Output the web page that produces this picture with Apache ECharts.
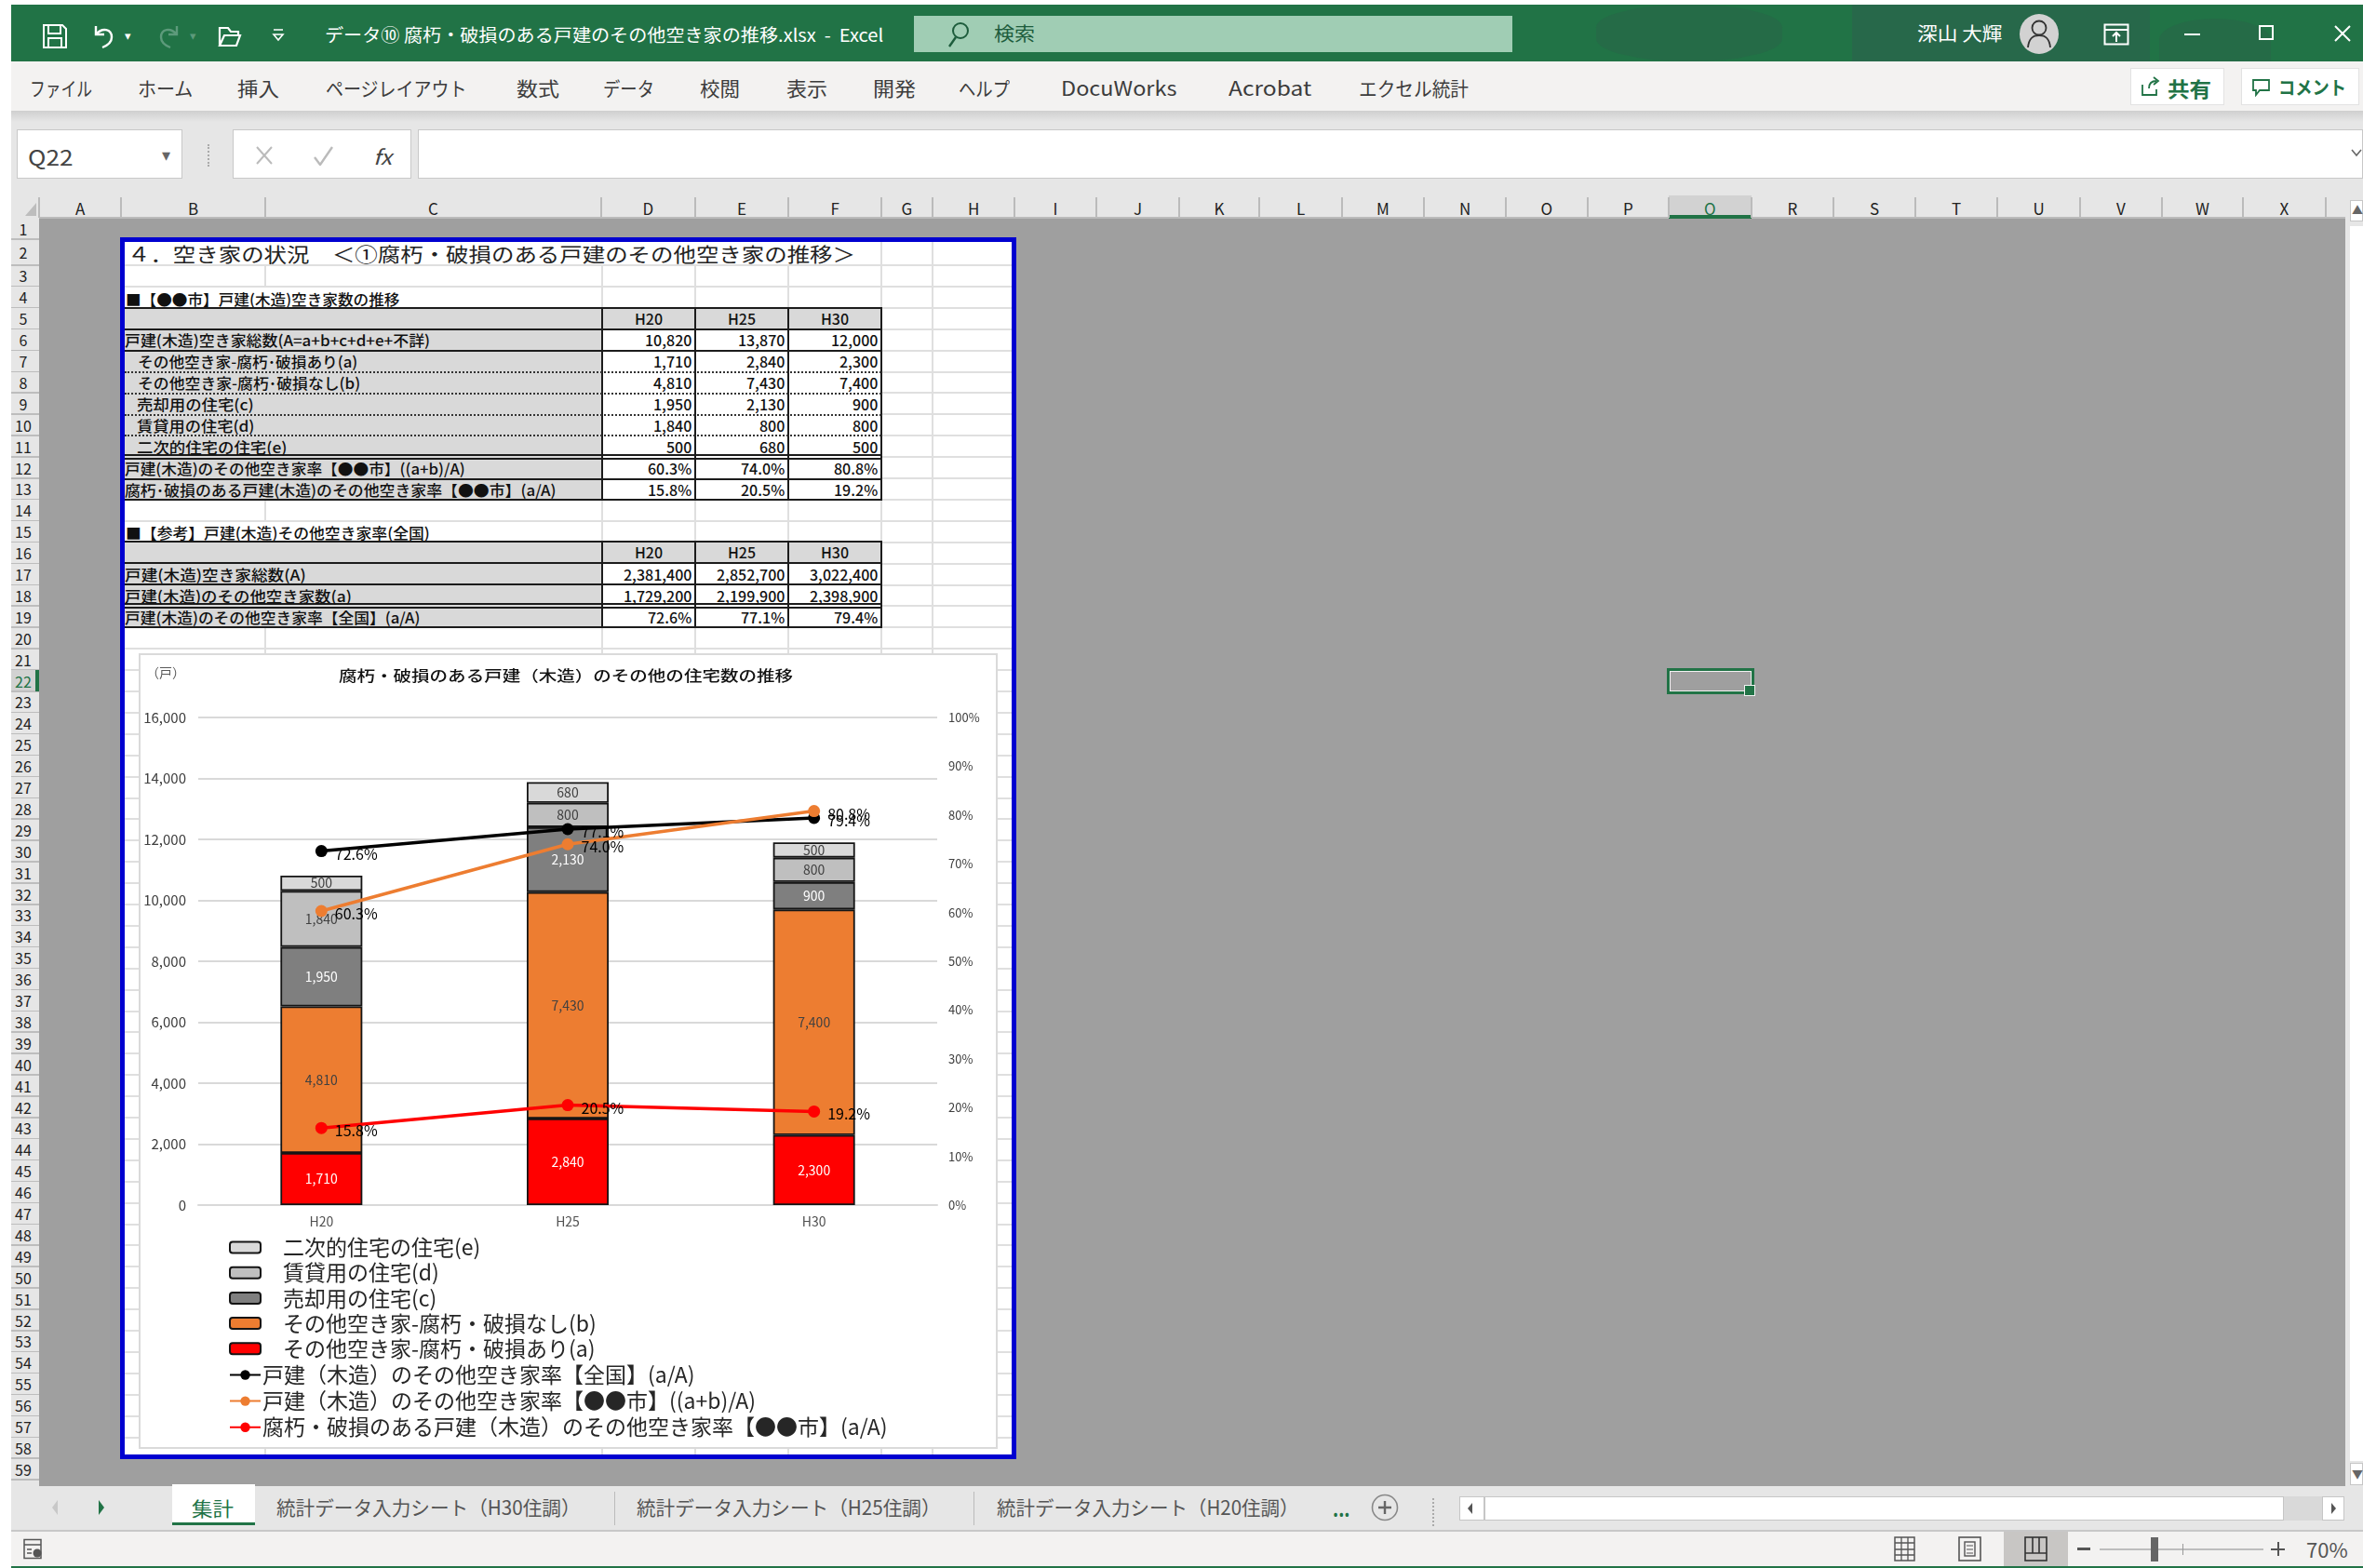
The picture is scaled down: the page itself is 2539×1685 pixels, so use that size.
<!DOCTYPE html>
<html lang="ja">
<head>
<meta charset="utf-8">
<title>腐朽・破損のある戸建のその他空き家の推移</title>
<script src="https://cdn.jsdelivr.net/npm/echarts@6/dist/echarts.min.js"></script>
<style>
  html, body { margin: 0; padding: 0; background: #fff; overflow: hidden; }
  #sheet { position: absolute; left: 0; top: 0; width: 2539px; height: 1685px; overflow: hidden;
           font-family: "Noto Sans CJK JP", "Noto Sans", sans-serif; }
  #sheet div, #sheet span, #sheet svg { position: absolute; }
  #sheet span { white-space: pre; line-height: 1; transform-origin: left center; }
  #chart { position: absolute; left: 150px; top: 703px; width: 921px; height: 853px; }
</style>
</head>
<body>
<div id="sheet"></div>
<div id="chart"></div>
<script>
// ---- 調査年 ----
const surveyYears = ['H20', 'H25', 'H30'];

// ---- ●●市 戸建(木造) 空き家数 ----
const vacantTotal = [10820, 13870, 12000];
const otherDamaged = [1710, 2840, 2300];
const otherUndamaged = [4810, 7430, 7400];
const forSale = [1950, 2130, 900];
const forRent = [1840, 800, 800];
const secondary = [500, 680, 500];
const cityOtherRate = [60.3, 74.0, 80.8];
const cityDamagedRate = [15.8, 20.5, 19.2];

// ---- 全国 ----
const nationTotal = [2381400, 2852700, 3022400];
const nationOther = [1729200, 2199900, 2398900];
const nationRate = [72.6, 77.1, 79.4];

// ---- 軸の目盛 ----
const countTicks = { min: 0, max: 16000, interval: 2000 };
const rateTicks = { min: 0, max: 100, interval: 10 };

// ---- シート見出し ----
const columnLetters = ['A','B','C','D','E','F','G','H','I','J','K','L','M','N','O','P','Q','R','S','T','U','V','W','X'];
const columnEdges = [42,130,285,646,747,847,947,1002,1090,1178,1267,1353,1442,1530,1618,1706,1793,1882,1970,2058,2146,2235,2323,2410,2499];

const GREEN = '#217346';
const root = document.getElementById('sheet');

function box(x, y, w, h, css) {
  const d = document.createElement('div');
  d.style.cssText = `left:${x}px;top:${y}px;width:${w}px;height:${h}px;${css || ''}`;
  root.appendChild(d);
  return d;
}

// テキストを配置する。w を渡すとその幅に合わせて横方向に伸縮する。
function text(str, x, yc, size, color, opt) {
  opt = opt || {};
  const s = document.createElement('span');
  s.textContent = str;
  s.style.fontSize = size + 'px';
  s.style.color = color;
  if (opt.bold) s.style.fontWeight = '700';
  else if (opt.medium) s.style.fontWeight = '500';
  root.appendChild(s);
  const natural = s.offsetWidth, height = s.offsetHeight;
  const W = opt.w || natural;
  const left = opt.align === 'r' ? x - W : opt.align === 'c' ? x - W / 2 : x;
  s.style.left = left + 'px';
  s.style.top = (yc - height / 2) + 'px';
  s.style.transform = `scaleX(${W / natural})`;
  return s;
}

function icon(x, y, w, h, inner) {
  const wrap = document.createElement('div');
  wrap.style.cssText = `left:${x}px;top:${y}px;width:${w}px;height:${h}px;`;
  wrap.innerHTML = `<svg width="${w}" height="${h}" viewBox="0 0 ${w} ${h}" style="left:0;top:0" fill="none">${inner}</svg>`;
  root.appendChild(wrap);
}

function rowTop(n) {
  if (n === 1) return 234;
  if (n === 2) return 257;
  return 285 + (n - 3) * 22.9;
}

// ---------- タイトルバー ----------
box(12, 5, 2527, 61, `background:${GREEN}`);
box(1715, 5, 200, 61, 'background:#256B47;border-radius:50%/40%');
box(1990, 5, 320, 61, 'background:#27684A');
box(2320, 20, 120, 46, 'background:#256B47;border-radius:50% 50% 0 0');
icon(45, 25, 28, 28, '<path d="M2 2h20l4 4v20H2z M7 2v9h13V2 M7 26v-10h14v10" stroke="#fff" stroke-width="2"/>');
icon(97, 24, 30, 30, '<path d="M6 4v9h9 M6 13c7-8 17-6 17 3 0 6-5 9-10 11" stroke="#fff" stroke-width="2.4"/>');
text('▾', 134, 37, 13, '#fff');
icon(166, 24, 30, 30, '<path d="M24 4v9h-9 M24 13c-7-8-17-6-17 3 0 6 5 9 10 11" stroke="#5d9a7b" stroke-width="2.4"/>');
text('▾', 204, 37, 13, '#5d9a7b');
icon(233, 25, 28, 28, '<path d="M3 24V5h9l3 4h8v4 M3 24h18l4-11H8z" stroke="#fff" stroke-width="2.2"/>');
icon(292, 28, 14, 18, '<path d="M2 4h10 M2 9l5 6 5-6z" stroke="#fff" stroke-width="1.6"/>');
text('データ⑩ 腐朽・破損のある戸建のその他空き家の推移.xlsx  -  Excel', 349, 36, 19, '#fff', { w: 600 });
box(982, 17, 643, 39, 'background:#A0CDB4');
icon(1017, 22, 26, 30, '<circle cx="15" cy="11" r="8" stroke="#1d5c3c" stroke-width="2"/><path d="M10 18L3 28" stroke="#1d5c3c" stroke-width="2.4"/>');
text('検索', 1068, 36, 20, '#1d5c3c', { w: 44 });
text('深山 大輝', 2060, 36, 20, '#fff', { w: 91 });
box(2170, 15, 42, 43, 'background:#D2D2D2;border-radius:50%');
icon(2170, 15, 42, 43, '<circle cx="21" cy="15" r="7.5" stroke="#333" stroke-width="1.8"/><path d="M9 36c1-10 5-13 12-13s11 3 12 13" stroke="#333" stroke-width="1.8"/>');
icon(2260, 25, 28, 24, '<rect x="1.5" y="1.5" width="25" height="21" stroke="#fff" stroke-width="2"/><path d="M1.5 7h25 M14 20v-9 M10 14l4-4 4 4" stroke="#fff" stroke-width="2"/>');
box(2347, 36, 17, 2, 'background:#fff');
box(2427, 27, 16, 16, 'border:2px solid #fff;box-sizing:border-box');
icon(2508, 27, 18, 18, '<path d="M1 1l16 16 M17 1L1 17" stroke="#fff" stroke-width="2"/>');

// ---------- リボンタブ ----------
box(12, 66, 2527, 53, 'background:#F3F2F1');
box(12, 119, 2527, 20, 'background:linear-gradient(#CFCFCF,#E6E6E6 60%)');
[['ファイル',32,67],['ホーム',148,59],['挿入',255,45],['ページレイアウト',350,152],['数式',555,46],['データ',648,55],
 ['校閲',752,43],['表示',845,44],['開発',938,46],['ヘルプ',1030,55],['DocuWorks',1140,124],['Acrobat',1320,89],['エクセル統計',1460,118]]
  .forEach(t => text(t[0], t[1], 94, 21, '#3c3c3c', { w: t[2] }));
box(2289, 73, 101, 40, 'background:#fff;border:1px solid #E2E2E2;box-sizing:border-box');
icon(2299, 82, 24, 22, `<path d="M3 9v11h15v-6 M10 13c0-5 3-8 8-8 M15 1l5 4-5 4" stroke="${GREEN}" stroke-width="1.8"/>`);
text('共有', 2329, 94, 22, GREEN, { w: 47, bold: true });
box(2408, 73, 127, 40, 'background:#fff;border:1px solid #E2E2E2;box-sizing:border-box');
icon(2419, 84, 22, 20, `<path d="M2 2h17v11H9l-4 5v-5H2z" stroke="${GREEN}" stroke-width="1.8"/>`);
text('コメント', 2448, 94, 20, GREEN, { w: 73, bold: true });

// ---------- 数式バー ----------
box(12, 139, 2527, 71, 'background:#E6E6E6');
const inputCss = 'background:#fff;border:1.5px solid #C8C8C8;box-sizing:border-box';
box(18, 139, 178, 53, inputCss);
text('Q22', 30, 168, 23, '#444', { w: 49 });
text('▾', 174, 165, 18, '#666');
box(223, 155, 0, 24, 'border-left:2px dotted #AAA');
box(250, 139, 192, 53, inputCss);
icon(274, 156, 20, 22, '<path d="M2 2l16 18 M18 2L2 20" stroke="#BBB" stroke-width="2"/>');
icon(336, 156, 24, 22, '<path d="M2 13l6 8L21 2" stroke="#BBB" stroke-width="2.4"/>');
text('fx', 401, 167, 22, '#444', { w: 20 }).style.fontStyle = 'italic';
box(449, 139, 2090, 53, inputCss);
icon(2526, 160, 13, 10, '<path d="M1 1l5 6 5-6" stroke="#666" stroke-width="1.6"/>');

// ---------- 列見出し・行見出し ----------
box(12, 210, 2527, 24, 'background:#E6E6E6');
box(12, 234, 30, 1363, 'background:#E6E6E6');
box(42, 234, 2478, 1363, 'background:#9F9F9F');
box(2520, 234, 19, 1363, 'background:#E6E6E6');
icon(26, 217, 14, 16, '<path d="M13 1v14H1z" fill="#BDBDBD"/>');
columnLetters.forEach((c, i) => {
  const l = columnEdges[i], r = columnEdges[i + 1];
  if (c === 'Q') {
    box(l, 210, r - l, 22, 'background:#D2D2D2');
    box(l, 231, r - l, 4, `background:${GREEN}`);
  }
  text(c, (l + r) / 2, 223, 17, c === 'Q' ? GREEN : '#222', { align: 'c' });
});
columnEdges.forEach(x => box(x - 1, 212, 1.5, 22, 'background:#BBB'));
box(42, 233, 1751, 1.5, 'background:#BBB');
box(1882, 233, 638, 1.5, 'background:#BBB');
for (let n = 1; n <= 59; n++) {
  const top = rowTop(n), bot = n === 59 ? top + 22.9 : rowTop(n + 1);
  if (n === 22) box(12, top, 30, bot - top, 'background:#D2D2D2');
  box(12, bot - 1, 30, 1.5, 'background:#BDBDBD');
  text(String(n), 25, (top + bot) / 2, 16, n === 22 ? GREEN : '#222', { align: 'c' });
}
box(38, rowTop(22), 4, 22.9, `background:${GREEN}`);

// ---------- 印刷範囲 ----------
box(134, 260, 953, 1303, 'background:#fff');
const gridCss = 'background:#DFDFDF';
for (let n = 3; n <= 59; n++) box(134, rowTop(n) - 1, 953, 2, gridCss);
[947, 1002].forEach(x => box(x - 1, 260, 2, 1303, gridCss));
[285, 647, 747, 847].forEach(x => box(x - 1, 285, 2, 1278, gridCss));
box(134, rowTop(4) + 1, 500, 20, 'background:#fff');
box(134, rowTop(15) + 1, 500, 20, 'background:#fff');
box(129, 255, 963, 1313, 'border:5px solid #0000D0;box-sizing:border-box');

text('４．空き家の状況　＜①腐朽・破損のある戸建のその他空き家の推移＞', 137, 272, 21, '#222', { w: 782 });
text('■【●●市】戸建(木造)空き家数の推移', 135, 321, 16, '#111', { w: 294, medium: true });
text('■【参考】戸建(木造)その他空き家率(全国)', 135, 572, 16, '#111', { w: 327, medium: true });

// 表の描画
const fmt = v => v.toLocaleString('en-US');
const pct = v => v.toFixed(1) + '%';
const valueRight = [743, 843, 943];
const headerCenter = [697, 797, 897];
const LINE = '#1c1c1c';

function tableFrame(y0, y1) {
  box(134, y0, 513, y1 - y0, 'background:#D9D9D9');
  box(647, y0, 300, 23, 'background:#D9D9D9');
  box(647, y0 + 23, 300, y1 - y0 - 23, 'background:#fff');
  [647, 747, 847, 947].forEach(x => box(x - 1, y0, 2, y1 - y0, `background:${LINE}`));
}
const hline = (y, x0, x1) => box(x0 || 134, y - 1, (x1 || 948) - (x0 || 134), 2, `background:${LINE}`);
const dotted = y => box(134, y - 1, 813, 0, 'border-top:2px dotted #333');

function valueRow(yc, values, f) {
  values.forEach((v, i) => text(f(v), valueRight[i], yc, 16, '#111', { align: 'r', medium: true }));
}
function headerRow(yc) {
  surveyYears.forEach((h, i) => text(h, headerCenter[i], yc, 16, '#111', { align: 'c', medium: true }));
}

tableFrame(331, 537);
[331, 354, 377, 489, 492.5, 515, 537].forEach(y => hline(y));
[400, 423, 446, 468].forEach(dotted);
headerRow(342);
const cityRows = [
  ['戸建(木造)空き家総数(A=a+b+c+d+e+不詳)', 134, 328, 365, vacantTotal, fmt],
  ['その他空き家-腐朽･破損あり(a)', 148, 236, 388, otherDamaged, fmt],
  ['その他空き家-腐朽･破損なし(b)', 148, 239, 411, otherUndamaged, fmt],
  ['売却用の住宅(c)', 147, 126, 434, forSale, fmt],
  ['賃貸用の住宅(d)', 147, 126, 457, forRent, fmt],
  ['二次的住宅の住宅(e)', 147, 161, 480, secondary, fmt],
  ['戸建(木造)のその他空き家率【●●市】((a+b)/A)', 134, 366, 503, cityOtherRate, pct],
  ['腐朽･破損のある戸建(木造)のその他空き家率【●●市】(a/A)', 134, 463, 526, cityDamagedRate, pct]
];
cityRows.forEach(r => {
  text(r[0], r[1], r[3], 16, '#111', { w: r[2], medium: true });
  valueRow(r[3], r[4], r[5]);
});

tableFrame(582, 674);
[582, 605, 628, 649, 652.5, 674].forEach(y => hline(y));
headerRow(593);
const nationRows = [
  ['戸建(木造)空き家総数(A)', 195, 617, nationTotal, fmt],
  ['戸建(木造)のその他空き家数(a)', 244, 640, nationOther, fmt],
  ['戸建(木造)のその他空き家率【全国】(a/A)', 317, 663, nationRate, pct]
];
nationRows.forEach(r => {
  text(r[0], 134, r[2], 16, '#111', { w: r[1], medium: true });
  valueRow(r[2], r[3], r[4]);
});

// グラフの台紙
box(149, 702, 923, 855, 'background:#fff;border:2px solid #DADADA;box-sizing:border-box');

// 選択セル Q22
box(1791, 717.5, 94, 28, `border:3px solid ${GREEN};box-sizing:border-box`);
box(1794, 720.5, 88, 22, 'border:1.5px solid #F2F2F2;box-sizing:border-box');
box(1875, 737, 10, 10, `background:${GREEN};outline:1px solid #F2F2F2`);

// ---------- 縦スクロールバー ----------
box(2525, 215, 14, 23, 'background:#fff;border:1px solid #C6C6C6;box-sizing:border-box');
text('▲', 2527, 226, 12, '#666');
box(2525, 243, 14, 1327, 'background:#fff');
box(2525, 1572, 14, 24, 'background:#fff;border:1px solid #C6C6C6;box-sizing:border-box');
text('▼', 2527, 1584, 12, '#666');

// ---------- シートタブ ----------
box(12, 1597, 2527, 48, 'background:#E6E6E6');
box(12, 1644, 2527, 2, 'background:#C8C8C8');
box(12, 1646, 2527, 37, 'background:#F3F2F1');
box(12, 1683, 2527, 2, `background:${GREEN}`);
icon(54, 1611, 10, 18, '<path d="M8 1L2 9l6 8z" fill="#C8C8C8"/>');
icon(104, 1611, 10, 18, `<path d="M2 1l6 8-6 8z" fill="${GREEN}"/>`);
box(185, 1595, 89, 44, 'background:#fff');
box(185, 1636, 89, 3, `background:${GREEN}`);
text('集計', 206, 1620, 21, GREEN, { w: 45 });
[['統計データ入力シート（H30住調）', 297, 327], ['統計データ入力シート（H25住調）', 684, 327], ['統計データ入力シート（H20住調）', 1071, 325]]
  .forEach(t => text(t[0], t[1], 1619, 21, '#555', { w: t[2] }));
box(660, 1603, 1, 36, 'background:#BBB');
box(1046, 1603, 1, 36, 'background:#BBB');
text('...', 1432, 1620, 22, GREEN, { w: 18, bold: true });
icon(1473, 1605, 30, 30, '<circle cx="15" cy="15" r="13.5" stroke="#888" stroke-width="1.6"/><path d="M15 8v14 M8 15h14" stroke="#666" stroke-width="2.4"/>');
box(1539, 1610, 0, 30, 'border-left:2px dotted #AAA');
box(1568, 1608, 951, 26, 'background:#D9D9D9');
box(1568, 1608, 886, 26, 'background:#fff;border:1.5px solid #C6C6C6;box-sizing:border-box');
box(1594, 1608, 1.5, 26, 'background:#C6C6C6');
icon(1575, 1614, 10, 14, '<path d="M7 1L2 7l5 6z" fill="#555"/>');
box(2495, 1608, 24, 26, 'background:#fff;border:1.5px solid #C6C6C6;box-sizing:border-box');
icon(2502, 1614, 10, 14, '<path d="M3 1l5 6-5 6z" fill="#555"/>');

// ---------- ステータスバー ----------
icon(24, 1653, 24, 25, '<rect x="2" y="1.5" width="18" height="20" stroke="#555" stroke-width="1.5"/><path d="M2 7h18 M5 12h5 M5 16h5" stroke="#555" stroke-width="1.4"/><circle cx="16" cy="16" r="4.5" fill="#555"/>');
box(2153, 1646, 69, 37, 'background:#C8C6C4');
icon(2035, 1651, 24, 28, '<rect x="1" y="1" width="21" height="25" stroke="#555" stroke-width="1.5"/><path d="M8 1v25 M15 1v25 M1 7h21 M1 14h21 M1 20h21" stroke="#555" stroke-width="1.3"/>');
icon(2104, 1651, 26, 28, '<rect x="1" y="1" width="23" height="25" stroke="#555" stroke-width="1.6"/><rect x="7" y="6" width="11" height="15" stroke="#555" stroke-width="1.4"/><path d="M9 10h7 M9 14h7 M9 18h7" stroke="#555"/>');
icon(2175, 1651, 26, 28, '<rect x="1" y="1" width="23" height="25" stroke="#333" stroke-width="1.6"/><path d="M9 1v17 M16 1v17 M1 18h23" stroke="#333" stroke-width="1.6"/>');
box(2232, 1663, 14, 3, 'background:#555');
box(2256, 1664, 176, 2, 'background:#BDBDBD');
box(2345, 1659, 1, 12, 'background:#999');
box(2311, 1652, 8, 26, 'background:#666');
box(2440, 1664, 15, 2, 'background:#555');
box(2447, 1657, 2, 15, 'background:#555');
text('70%', 2478, 1665, 21, '#555', { w: 45 });

// ---------- グラフ本体 ----------
const FONT = '"Noto Sans CJK JP", "Noto Sans", sans-serif';
const BORDER = '#141414';
const thousands = v => fmt(v);

function barSeries(name, data, fill, labelColor) {
  return {
    name, type: 'bar', stack: 'count', yAxisIndex: 0, barWidth: 88, data,
    itemStyle: { color: fill, borderColor: BORDER, borderWidth: 1.8 },
    label: { show: true, position: 'inside', fontFamily: FONT, fontSize: 14, color: labelColor, formatter: p => thousands(p.value) }
  };
}
function lineSeries(name, data, color) {
  return {
    name, type: 'line', yAxisIndex: 1, data, z: 5, symbol: 'circle', symbolSize: 13,
    lineStyle: { color, width: 3.5 }, itemStyle: { color },
    label: { show: true, position: 'right', distance: 8, offset: [0, 3], fontFamily: FONT, fontSize: 16, color: '#000', formatter: p => pct(p.value) }
  };
}
const barNames = ['二次的住宅の住宅(e)', '賃貸用の住宅(d)', '売却用の住宅(c)', 'その他空き家-腐朽・破損なし(b)', 'その他空き家-腐朽・破損あり(a)'];
const lineNames = ['戸建（木造）のその他空き家率【全国】(a/A)', '戸建（木造）のその他空き家率【●●市】((a+b)/A)', '腐朽・破損のある戸建（木造）のその他空き家率【●●市】(a/A)'];

const chart = echarts.init(document.getElementById('chart'), null, { renderer: 'canvas' });
chart.setOption({
  animation: false,
  backgroundColor: 'transparent',
  textStyle: { fontFamily: FONT },
  grid: { left: 63, right: 64, top: 68, bottom: 261 },
  legend: [
    {
      data: barNames, orient: 'vertical', left: 96, top: 626, padding: 0, itemGap: 4.2,
      itemWidth: 33, itemHeight: 12,
      textStyle: { fontFamily: FONT, fontSize: 23, lineHeight: 22, color: '#262626', padding: [0, 0, 0, 19] }
    },
    {
      data: lineNames, orient: 'vertical', left: 96, top: 763, padding: 0, itemGap: 5.1,
      itemWidth: 33, itemHeight: 13,
      textStyle: { fontFamily: FONT, fontSize: 23, lineHeight: 22, color: '#262626', padding: [0, 0, 0, -3] }
    }
  ],
  graphic: [
    {
      type: 'text', x: 458, y: 23, scaleX: 1.22, silent: true,
      style: { text: '腐朽・破損のある戸建（木造）のその他の住宅数の推移', fontFamily: FONT, fontSize: 16, fontWeight: 500, fill: '#111', textAlign: 'center', textVerticalAlign: 'middle' }
    },
    {
      type: 'text', x: 28, y: 20, silent: true,
      style: { text: '（戸）', fontFamily: FONT, fontSize: 14, fill: '#595959', textAlign: 'center', textVerticalAlign: 'middle' }
    }
  ],
  xAxis: {
    type: 'category', data: surveyYears,
    axisLine: { lineStyle: { color: '#D9D9D9', width: 2 } }, axisTick: { show: false },
    axisLabel: { color: '#505050', fontFamily: FONT, fontSize: 14, margin: 11 }
  },
  yAxis: [
    {
      type: 'value', min: countTicks.min, max: countTicks.max, interval: countTicks.interval,
      axisLine: { show: false }, axisTick: { show: false },
      splitLine: { lineStyle: { color: '#D9D9D9', width: 2 } },
      axisLabel: { color: '#404040', fontFamily: FONT, fontSize: 15, margin: 13, formatter: thousands }
    },
    {
      type: 'value', position: 'right', min: rateTicks.min, max: rateTicks.max, interval: rateTicks.interval,
      axisLine: { show: false }, axisTick: { show: false }, splitLine: { show: false },
      axisLabel: { color: '#404040', fontFamily: FONT, fontSize: 13, margin: 12, formatter: v => v + '%' }
    }
  ],
  series: [
    barSeries(barNames[4], otherDamaged, '#FF0000', '#FFFFFF'),
    barSeries(barNames[3], otherUndamaged, '#ED7D31', '#404040'),
    barSeries(barNames[2], forSale, '#7F7F7F', '#FFFFFF'),
    barSeries(barNames[1], forRent, '#BFBFBF', '#404040'),
    barSeries(barNames[0], secondary, '#D9D9D9', '#404040'),
    lineSeries(lineNames[0], nationRate, '#000000'),
    lineSeries(lineNames[1], cityOtherRate, '#ED7D31'),
    lineSeries(lineNames[2], cityDamagedRate, '#FF0000')
  ]
});
</script>
</body>
</html>
